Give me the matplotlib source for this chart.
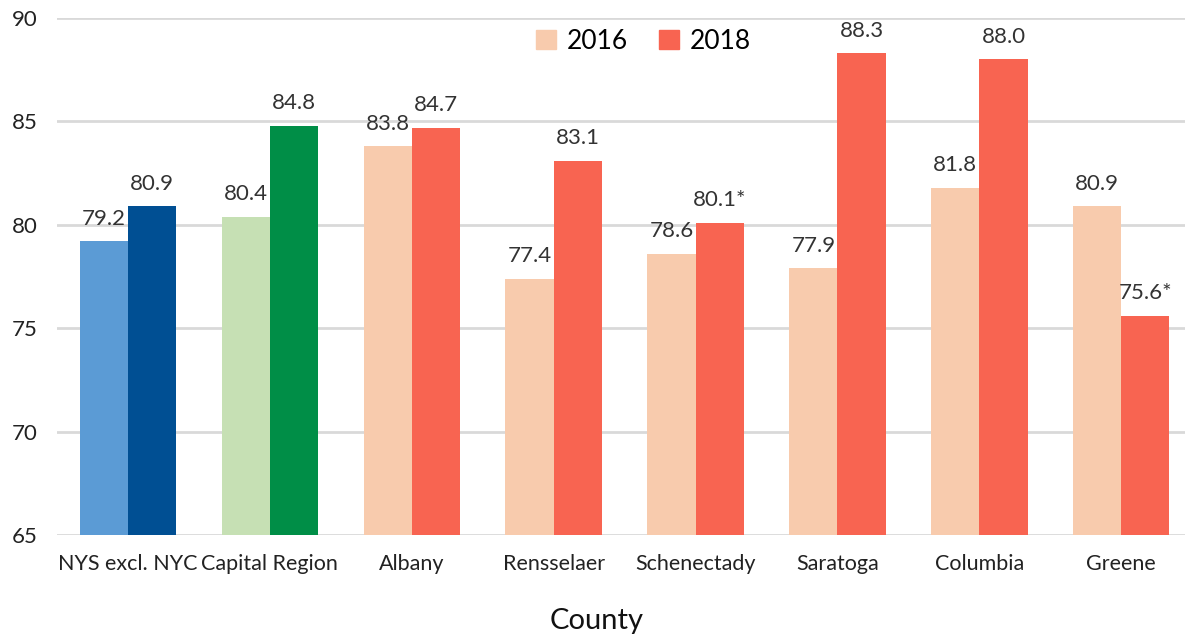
import matplotlib.pyplot as plt
import numpy as np
from matplotlib.patches import Patch

plt.rcParams["font.family"] = ["Lato", "DejaVu Sans"]

counties = ["NYS excl. NYC", "Capital Region", "Albany", "Rensselaer",
            "Schenectady", "Saratoga", "Columbia", "Greene"]
vals_2016 = [79.2, 80.4, 83.8, 77.4, 78.6, 77.9, 81.8, 80.9]
vals_2018 = [80.9, 84.8, 84.7, 83.1, 80.1, 88.3, 88.0, 75.6]
labels_2018 = ["80.9", "84.8", "84.7", "83.1", "80.1*", "88.3", "88.0", "75.6*"]

light = ["#5B9BD5", "#C6E0B4"] + ["#F8CBAD"] * 6
dark = ["#004F93", "#008E47"] + ["#F86451"] * 6

fig = plt.figure(figsize=(11.85, 6.39), dpi=100)
ax = fig.add_axes([57 / 1185, 1 - 535 / 639, 1128 / 1185, (535 - 18) / 639])

x = np.arange(len(counties))
w = 0.34
ax.bar(x - w / 2, np.array(vals_2016) - 65, w, bottom=65, color=light, zorder=2)
ax.bar(x + w / 2, np.array(vals_2018) - 65, w, bottom=65, color=dark, zorder=2)

txt = "#333333"
for i in range(len(counties)):
    ax.annotate(f"{vals_2016[i]:.1f}", (x[i] - w / 2, vals_2016[i]),
                xytext=(0, 9), textcoords="offset points", ha="center",
                va="bottom", fontsize=16, color=txt)
    ax.annotate(labels_2018[i], (x[i] + w / 2, vals_2018[i]),
                xytext=(0, 9), textcoords="offset points", ha="center",
                va="bottom", fontsize=16, color=txt)

ax.set_ylim(65, 90)
ax.set_yticks(np.arange(65, 91, 5))
ax.set_xlim(-0.5, -0.5 + 1128 / 141.9)
ax.set_xticks(x)
ax.set_xticklabels(counties)
ax.tick_params(axis="both", length=0, labelsize=16, colors="#222222")
ax.tick_params(axis="x", labelsize=15.5, pad=14)
ax.tick_params(axis="y", pad=14)
ax.yaxis.grid(True, color="#D9D9D9", linewidth=2, zorder=0)
for s in ax.spines.values():
    s.set_visible(False)
ax.set_xlabel("County", fontsize=21, color="#111111")
ax.xaxis.set_label_coords(540 / 1128, -0.142)

handles = [Patch(color="#F8CBAD", label="2016"), Patch(color="#F86451", label="2018")]
ax.legend(handles=handles, loc="upper center", bbox_to_anchor=(0.52, 1.025),
          ncol=2, frameon=False, fontsize=19, handlelength=0.75,
          handleheight=0.75, handletextpad=0.4, columnspacing=1.2)

fig.savefig("out.png", dpi=100)
